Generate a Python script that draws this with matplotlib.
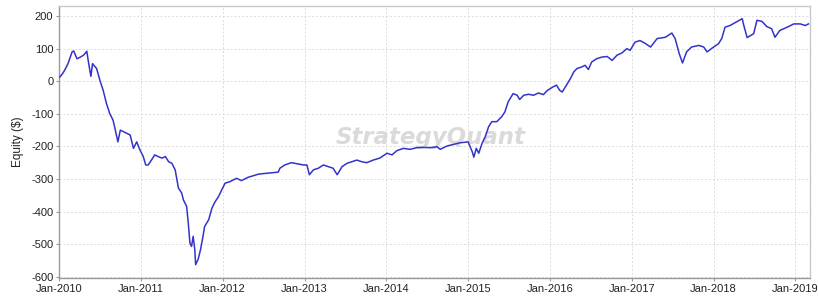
# Curva de equity (StrategyQuant) - recreación con matplotlib

import numpy as np
import pandas as pd
import matplotlib
matplotlib.use("Agg")
import matplotlib.pyplot as plt
import matplotlib.dates as mdates


# ============================================================
# Datos (año decimal, equity en $)
# ============================================================

years = [
    2010.01, 2010.04, 2010.07, 2010.11, 2010.16, 2010.18, 2010.22, 2010.26,
    2010.30, 2010.34, 2010.36, 2010.39, 2010.41, 2010.46, 2010.50, 2010.54,
    2010.58, 2010.62, 2010.66, 2010.68, 2010.72, 2010.75, 2010.79, 2010.83,
    2010.87, 2010.91, 2010.95, 2010.99, 2011.03, 2011.06, 2011.09, 2011.13,
    2011.17, 2011.21, 2011.26, 2011.30, 2011.34, 2011.38, 2011.42, 2011.46,
    2011.50, 2011.52, 2011.56, 2011.58, 2011.60, 2011.62, 2011.64, 2011.66,
    2011.67, 2011.70, 2011.73, 2011.76, 2011.78, 2011.83, 2011.87, 2011.91,
    2011.95, 2011.99, 2012.03, 2012.09, 2012.17, 2012.23, 2012.31, 2012.44,
    2012.56, 2012.68, 2012.70, 2012.76, 2012.84, 2012.93, 2012.99, 2013.03,
    2013.06, 2013.11, 2013.17, 2013.23, 2013.29, 2013.35, 2013.40, 2013.46,
    2013.52, 2013.58, 2013.64, 2013.70, 2013.76, 2013.84, 2013.92, 2014.01,
    2014.07, 2014.13, 2014.21, 2014.29, 2014.37, 2014.45, 2014.54, 2014.62,
    2014.66, 2014.74, 2014.82, 2014.90, 2015.00, 2015.05, 2015.07, 2015.10,
    2015.13, 2015.17, 2015.21, 2015.25, 2015.29, 2015.35, 2015.41, 2015.45,
    2015.49, 2015.55, 2015.60, 2015.63, 2015.68, 2015.74, 2015.80, 2015.86,
    2015.92, 2015.97, 2016.04, 2016.08, 2016.12, 2016.15, 2016.19, 2016.25,
    2016.29, 2016.33, 2016.39, 2016.43, 2016.47, 2016.51, 2016.57, 2016.63,
    2016.70, 2016.76, 2016.82, 2016.88, 2016.94, 2016.98, 2017.04, 2017.10,
    2017.16, 2017.23, 2017.31, 2017.41, 2017.49, 2017.53, 2017.58, 2017.62,
    2017.67, 2017.73, 2017.82, 2017.88, 2017.92, 2018.00, 2018.06, 2018.10,
    2018.14, 2018.20, 2018.28, 2018.35, 2018.37, 2018.41, 2018.49, 2018.53,
    2018.59, 2018.65, 2018.71, 2018.75, 2018.81, 2018.90, 2018.98, 2019.06,
    2019.12, 2019.16,
]

equity = [
    13, 22, 34, 54, 90, 93, 69, 74,
    80, 92, 59, 15, 54, 39, 3, -28,
    -68, -99, -119, -140, -186, -150, -155, -160,
    -165, -206, -186, -211, -231, -257, -257, -242,
    -226, -231, -236, -231, -247, -252, -272, -328,
    -343, -364, -384, -435, -496, -507, -476, -517,
    -563, -547, -517, -476, -446, -425, -389, -369,
    -354, -333, -313, -308, -298, -305, -295, -285,
    -282, -279, -267, -257, -250, -254, -257, -257,
    -287, -272, -267, -257, -262, -267, -287, -262,
    -252, -247, -242, -247, -250, -242, -236, -221,
    -226, -213, -206, -209, -204, -203, -204, -201,
    -209, -199, -194, -189, -186, -216, -233, -206,
    -221, -191, -170, -140, -124, -124, -109, -94,
    -63, -38, -43, -56, -43, -40, -43, -36,
    -41, -28, -17, -12, -28, -33, -17, 8,
    28, 39, 44, 49, 36, 59, 69, 74,
    76, 64, 80, 87, 100, 95, 120, 125,
    117, 105, 131, 135, 148, 131, 85, 56,
    90, 105, 110, 105, 90, 105, 115, 131,
    166, 171, 182, 192, 171, 134, 146, 187,
    184, 168, 161, 135, 156, 166, 176, 176,
    171, 176,
]

y_ticks = [-600, -500, -400, -300, -200, -100, 0, 100, 200]


def to_dates(decimal_years):
    """Convierte años decimales a fechas."""
    arr = np.asarray(decimal_years)
    base = pd.Timestamp("2010-01-01")
    return [base + pd.Timedelta(days=(y - 2010.0) * 365.25) for y in arr]


def main():
    plt.rcParams["axes.unicode_minus"] = False

    dates = to_dates(years)

    fig = plt.figure(figsize=(8.18, 3.0), dpi=100)
    ax = fig.add_axes([0.0721, 0.0733, 0.918, 0.9067])

    font = "Liberation Sans"

    # marca de agua
    ax.text(
        0.495, 0.515, "StrategyQuant",
        transform=ax.transAxes, ha="center", va="center",
        fontsize=16.5, fontweight="bold", fontstyle="italic",
        color="#dadada", family="DejaVu Sans", zorder=0,
    )

    ax.plot(dates, equity, color="#3333cc", linewidth=1.1, zorder=3)

    ax.set_xlim(pd.Timestamp("2010-01-01"), pd.Timestamp("2019-03-07"))
    ax.set_ylim(-604, 231)

    ax.set_yticks(y_ticks)
    ax.xaxis.set_major_locator(mdates.YearLocator())
    ax.xaxis.set_major_formatter(mdates.DateFormatter("%b-%Y"))

    ax.grid(True, color="#dcdcdc", linestyle=(0, (2, 2)), linewidth=0.7)
    ax.set_axisbelow(True)

    for side in ["top", "right"]:
        ax.spines[side].set_color("#c8c8c8")
    for side in ["left", "bottom"]:
        ax.spines[side].set_color("#9a9a9a")
    for sp in ax.spines.values():
        sp.set_linewidth(1.0)

    ax.tick_params(axis="both", length=2, color="#9a9a9a", labelsize=8, pad=2)
    for lbl in ax.get_xticklabels() + ax.get_yticklabels():
        lbl.set_family(font)
        lbl.set_color("#222222")

    ax.set_ylabel("Equity ($)", fontsize=8.5, family=font, color="#222222", labelpad=5)

    fig.savefig("out.png", dpi=100)
    plt.close(fig)


if __name__ == "__main__":
    main()
